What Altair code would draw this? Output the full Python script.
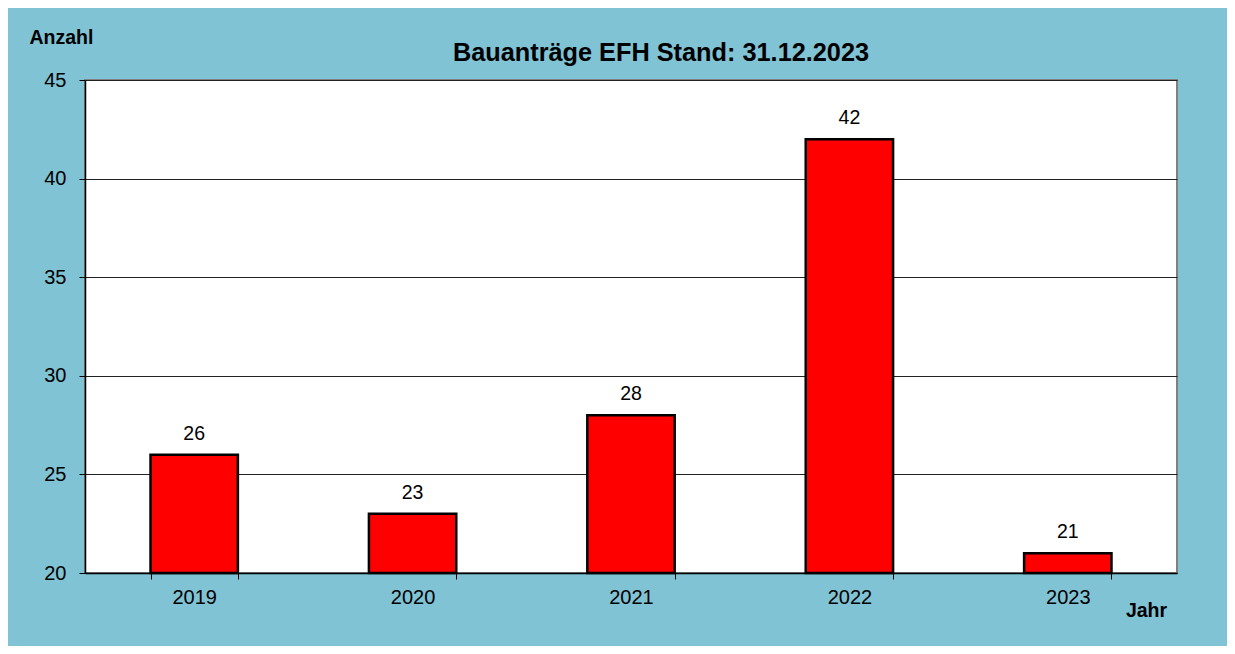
import altair as alt
import pandas as pd

years = ["2019", "2020", "2021", "2022", "2023"]
counts = [26, 23, 28, 42, 21]
y_ticks = [20, 25, 30, 35, 40, 45]
title_text = ["Bauanträge EFH Stand: 31.12.2023"]

df = pd.DataFrame({"Jahr": years, "Anzahl": counts})
df_title = pd.DataFrame({"t": title_text})

FONT = "Liberation Sans"

x_enc = alt.X(
    "Jahr:N",
    sort=years,
    scale=alt.Scale(paddingInner=0.6, paddingOuter=0.3),
    axis=alt.Axis(
        title="Jahr",
        titleFontSize=19.5,
        titleFontWeight="bold",
        titleFont=FONT,
        titleColor="black",
        titleAngle=0,
        titleAlign="center",
        titleBaseline="alphabetic",
        titleX=1061,
        titleY=43,
        labelAngle=0,
        labelFontSize=20,
        labelFont=FONT,
        labelColor="black",
        labelPadding=8,
        tickBand="extent",
        tickSize=6,
        tickColor="black",
        domainColor="black",
        domainWidth=1.5,
        grid=False,
    ),
)

y_enc = alt.Y(
    "Anzahl:Q",
    scale=alt.Scale(domain=[20, 45], nice=False, zero=False),
    axis=alt.Axis(
        title="Anzahl",
        titleFontSize=19.5,
        titleFontWeight="bold",
        titleFont=FONT,
        titleColor="black",
        titleAngle=0,
        titleAlign="left",
        titleBaseline="alphabetic",
        titleX=-56,
        titleY=-37,
        values=y_ticks,
        labelFontSize=20,
        labelFont=FONT,
        labelColor="black",
        labelPadding=13,
        tickSize=6,
        tickColor="black",
        domainColor="black",
        domainWidth=1.5,
        grid=True,
        gridColor="#222222",
        gridWidth=1,
    ),
)

bars = alt.Chart(df).mark_bar(
    color="#FF0000", stroke="black", strokeWidth=2.5
).encode(x=x_enc, y=y_enc, y2=alt.datum(20))

labels = alt.Chart(df).mark_text(
    dy=-15, baseline="alphabetic", fontSize=19.5, font=FONT, color="black"
).encode(x=alt.X("Jahr:N", sort=years), y="Anzahl:Q", text="Anzahl:Q")

title = alt.Chart(df_title).mark_text(
    fontSize=25.3, fontWeight="bold", font=FONT, color="black",
    align="center", baseline="alphabetic"
).encode(x=alt.value(576), y=alt.value(-19), text="t:N")

chart = (
    alt.layer(bars, labels, title)
    .properties(
        width=1092,
        height=493,
        background="#7FC3D5",
        padding={"left": 77, "top": 72, "right": 50, "bottom": 73},
        autosize=alt.AutoSizeParams(type="none"),
    )
    .configure_view(fill="white", stroke="#808080", strokeWidth=2)
)

chart.save("out.html", embed_options={"renderer": "svg", "actions": False})
